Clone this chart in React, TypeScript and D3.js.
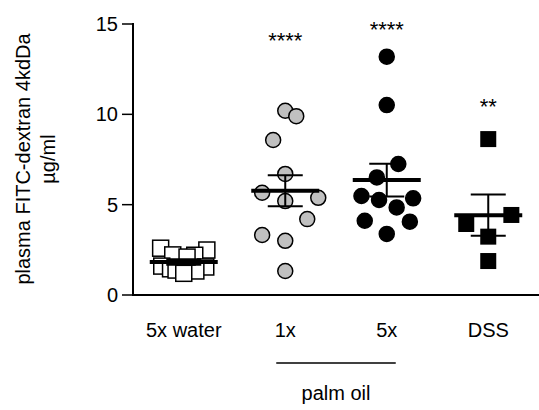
import React from "react";
import * as d3 from "d3";

const categories = ["5x water", "1x", "5x", "DSS"];
const waterValues = [2.59, 2.49, 2.22, 2.2, 1.6, 1.55, 1.45, 1.38, 1.33, 1.2, 2.1];
const oil1xValues = [10.2, 9.9, 8.58, 6.7, 5.66, 5.2, 5.38, 4.2, 3.32, 3.0, 1.33];
const oil5xValues = [13.19, 10.51, 7.25, 6.51, 5.48, 5.26, 5.35, 4.85, 4.11, 4.06, 3.38];
const dssValues = [8.63, 4.43, 3.93, 3.23, 1.88];
const significance = ["", "****", "**** ", "**"];
const yTicks = [0, 5, 10, 15];

// horizontal spread slots (layout, in marker half-widths)
const waterSlots = [-2.1, 2.1, -1.0, 1.0, -2.0, 2.0, -1.2, -0.7, 1.1, 0, 0.3];
const oil1xSlots = [0, 1, -1.1, 0, -2.1, 0, 3, 2, -2.1, 0, 0];
const oil5xSlots = [0, 0, 1.05, -0.9, -2.3, -0.7, 2.4, 0.9, -2, 2.1, 0];
const dssSlots = [0, 2.1, -2, 0, 0];

const W = 539;
const H = 410;
const FONT = "'Liberation Sans', Arial, sans-serif";

export default function App() {
  const x = d3.scaleBand<string>().domain(categories).range([133, 539]);
  const y = d3.scaleLinear().domain([0, 15]).range([295, 24]);
  const cx = (c: string) => (x(c) as number) + x.bandwidth() / 2;
  const slotPx = 11;

  const groups = [
    { cat: categories[0], values: waterValues, slots: waterSlots, shape: "square", fill: "#ffffff" },
    { cat: categories[1], values: oil1xValues, slots: oil1xSlots, shape: "circle", fill: "#c0c0c0" },
    { cat: categories[2], values: oil5xValues, slots: oil5xSlots, shape: "circle", fill: "#000000" },
    { cat: categories[3], values: dssValues, slots: dssSlots, shape: "square", fill: "#000000" },
  ];

  const starY = [0, 48, 37, 114];

  return (
    <div style={{ position: "absolute", left: 0, top: 0 }}>
      <svg width={W} height={H} style={{ display: "block", background: "#fff" }} fontFamily={FONT}>
        {/* y axis label */}
        <text transform={`translate(30,159) rotate(-90)`} textAnchor="middle" fontSize={20} fill="#000">
          plasma FITC-dextran 4kdDa
        </text>
        <text transform={`translate(55,159) rotate(-90)`} textAnchor="middle" fontSize={20} fill="#000">
          µg/ml
        </text>

        {/* y axis */}
        <line x1={133} x2={133} y1={y(15) - 1} y2={y(0) + 1} stroke="#000" strokeWidth={2} />
        {yTicks.map((t) => (
          <g key={t}>
            <line x1={122} x2={133} y1={y(t)} y2={y(t)} stroke="#000" strokeWidth={1.5} />
            <text x={118} y={y(t) + 7} textAnchor="end" fontSize={20} fill="#000">
              {t}
            </text>
          </g>
        ))}

        {/* x axis */}
        <line x1={132} x2={539} y1={y(0)} y2={y(0)} stroke="#000" strokeWidth={2} />
        {categories.map((c) => (
          <text key={c} x={cx(c)} y={337} textAnchor="middle" fontSize={20} fill="#000">
            {c}
          </text>
        ))}

        {/* palm oil bracket */}
        <line x1={cx(categories[1]) - 9} x2={cx(categories[2]) + 9} y1={363} y2={363} stroke="#000" strokeWidth={1.5} />
        <text x={(cx(categories[1]) + cx(categories[2])) / 2} y={400} textAnchor="middle" fontSize={20} fill="#000">
          palm oil
        </text>

        {/* points */}
        {groups.map((g) =>
          g.values.map((v, i) => {
            const px = cx(g.cat) + g.slots[i] * slotPx;
            const py = y(v);
            return g.shape === "circle" ? (
              <circle key={g.cat + i} cx={px} cy={py} r={7.5} fill={g.fill} stroke="#000" strokeWidth={1.5} />
            ) : (
              <rect key={g.cat + i} x={px - 8} y={py - 8} width={16} height={16} fill={g.fill} stroke="#000" strokeWidth={g.fill === "#ffffff" ? 1.5 : 0} />
            );
          })
        )}

        {/* mean and SEM */}
        {groups.map((g) => {
          const m = d3.mean(g.values) as number;
          const sem = (d3.deviation(g.values) as number) / Math.sqrt(g.values.length);
          const c = cx(g.cat);
          return (
            <g key={"m" + g.cat} stroke="#000">
              <line x1={c} x2={c} y1={y(m - sem)} y2={y(m + sem)} strokeWidth={2} />
              <line x1={c - 17.5} x2={c + 17.5} y1={y(m + sem)} y2={y(m + sem)} strokeWidth={2} />
              <line x1={c - 17.5} x2={c + 17.5} y1={y(m - sem)} y2={y(m - sem)} strokeWidth={2} />
              <line x1={c - 34} x2={c + 34} y1={y(m)} y2={y(m)} strokeWidth={4} />
            </g>
          );
        })}

        {/* significance */}
        {categories.map((c, i) =>
          significance[i].trim() ? (
            <text key={"s" + c} x={cx(c)} y={starY[i]} textAnchor="middle" fontSize={22} fill="#000">
              {significance[i].trim()}
            </text>
          ) : null
        )}
      </svg>
    </div>
  );
}
